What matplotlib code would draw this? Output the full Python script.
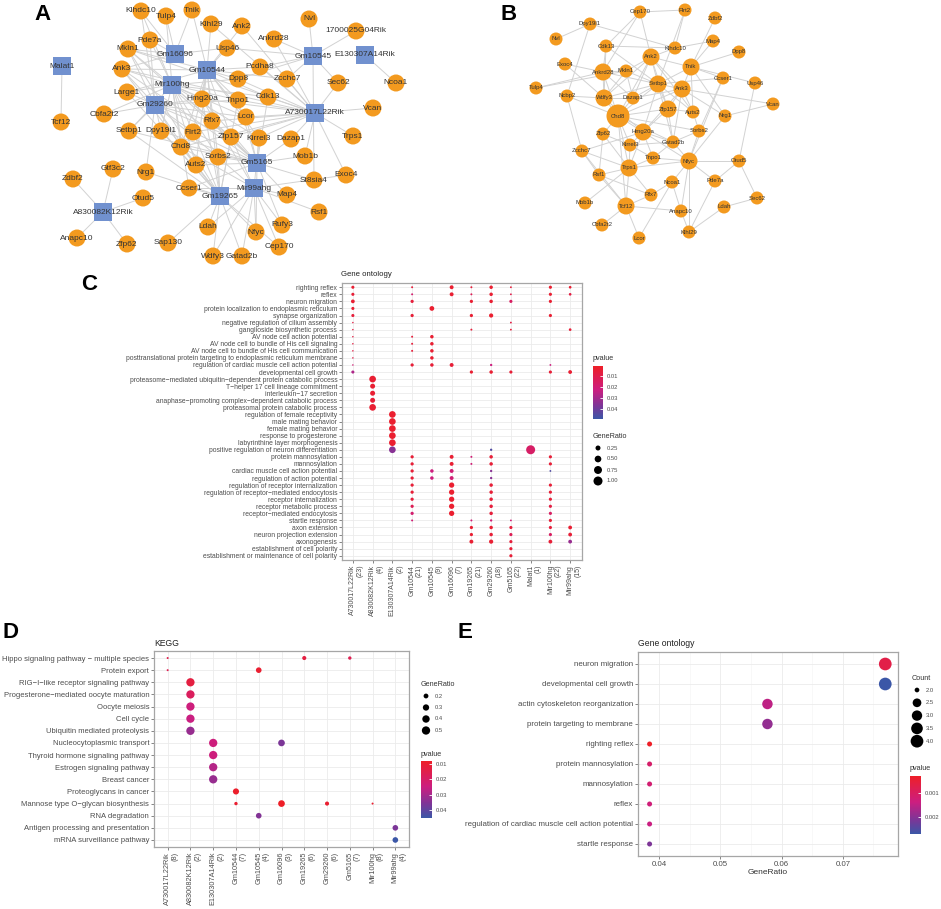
import numpy as np
import matplotlib
matplotlib.use("Agg")
import matplotlib.pyplot as plt
from matplotlib.colors import LinearSegmentedColormap, Normalize
from matplotlib.cm import ScalarMappable
from matplotlib.collections import LineCollection
from matplotlib.transforms import ScaledTranslation

plt.rcParams['font.family'] = ['Liberation Sans', 'DejaVu Sans']

# ---------------- data: panel A (lncRNA - mRNA network, layout from picture) ----------------
a_lnc = ['Malat1', 'Gm16096', 'Gm10544', 'Mir100hg', 'Gm29260', 'Gm10545', 'E130307A14Rik',
         'A730017L22Rik', 'Gm5165', 'Mir99ahg', 'Gm19265', 'A830082K12Rik']
a_lnc_x = [62, 175, 207, 172, 155, 313, 365, 315, 257, 254, 220, 103]
a_lnc_y = [66, 54, 70, 85, 105, 56, 55, 113, 163, 188, 196, 212]

a_gene = ['Klhdc10', 'Tulp4', 'Tnik', 'Klhl29', 'Ank2', 'Nvl', '1700025G04Rik', 'Ankrd28', 'Pde7a',
          'Mkln1', 'Usp46', 'Ank3', 'Pcdha8', 'Dpp8', 'Zcchc7', 'Sec62', 'Ncoa1', 'Large1', 'Hmg20a',
          'Tnpo1', 'Cdk13', 'Vcan', 'Cbfa2t2', 'Tcf12', 'Lcor', 'Rfx7', 'Setbp1', 'Dpy19l1', 'Flrt2',
          'Zfp157', 'Kirrel3', 'Dazap1', 'Trps1', 'Chd8', 'Sorbs2', 'Mob1b', 'Auts2', 'Gtf3c2', 'Nrg1',
          'Zdbf2', 'Exoc4', 'St8sia4', 'Ccser1', 'Map4', 'Otud5', 'Rsf1', 'Ldah', 'Rufy3', 'Nfyc',
          'Anapc10', 'Zfp62', 'Sap130', 'Cep170', 'Wdfy3', 'Gatad2b']
a_gene_x = [141, 166, 192, 211, 242, 309, 356, 274, 150, 128, 227, 122, 260, 238, 287, 338, 396, 127,
            202, 238, 268, 373, 104, 61, 246, 212, 129, 161, 193, 231, 259, 291, 353, 181, 218, 305,
            196, 113, 146, 73, 346, 314, 189, 287, 143, 319, 208, 282, 256, 77, 127, 168, 279, 213, 242]
a_gene_y = [11, 16, 10, 24, 26, 19, 31, 39, 40, 49, 48, 69, 67, 79, 79, 83, 83, 92, 99, 100, 97, 108,
            114, 122, 117, 121, 131, 131, 132, 137, 138, 139, 136, 147, 157, 156, 165, 169, 172, 179,
            175, 180, 188, 195, 198, 212, 227, 225, 232, 238, 244, 243, 247, 256, 256]

a_targets = {
    'Malat1': ['Tcf12'],
    'E130307A14Rik': ['Ncoa1'],
    'A830082K12Rik': ['Zdbf2', 'Gtf3c2', 'Otud5', 'Anapc10', 'Zfp62'],
    'Gm16096': ['Klhdc10', 'Tulp4', 'Tnik', 'Pde7a', 'Mkln1', 'Ank3', 'Usp46'],
    'Gm10545': ['Nvl', '1700025G04Rik', 'Sec62', 'Ankrd28', 'Zcchc7', 'Pcdha8', 'Usp46', 'Dpp8',
                'St8sia4'],
    'A730017L22Rik': ['Vcan', 'Trps1', 'Sec62', 'Zcchc7', 'Cdk13', 'Lcor', 'Tnpo1', 'Hmg20a', 'Dpp8',
                      'Pcdha8', 'Ankrd28', 'Ank2', 'Klhl29', 'Kirrel3', 'Dazap1', 'Mob1b', 'Exoc4',
                      'Zfp157', 'Rfx7', 'Flrt2', 'Chd8', 'Mkln1', 'Ank3'],
    'Gm5165': ['Kirrel3', 'Dazap1', 'Mob1b', 'Zfp157', 'Sorbs2', 'Auts2', 'Lcor', 'Rfx7', 'Chd8',
               'Flrt2', 'Dpy19l1', 'Setbp1', 'Ccser1', 'Nfyc', 'Rufy3', 'Map4', 'St8sia4', 'Hmg20a',
               'Tnpo1', 'Cdk13', 'Ank3', 'Mkln1'],
    'Mir99ahg': ['Map4', 'Rsf1', 'Rufy3', 'Nfyc', 'Cep170', 'Gatad2b', 'Wdfy3', 'Ldah', 'Sorbs2',
                 'Kirrel3', 'Zfp157', 'Exoc4', 'Ccser1', 'Chd8', 'Hmg20a'],
    'Gm19265': ['Ccser1', 'Nrg1', 'Ldah', 'Sap130', 'Wdfy3', 'Gatad2b', 'Nfyc', 'Cep170', 'Auts2',
                'Sorbs2', 'Chd8', 'Flrt2', 'Rfx7', 'Dpy19l1', 'Setbp1', 'Hmg20a', 'Zfp157', 'Ank3',
                'Mkln1', 'Large1', 'Tnpo1'],
    'Gm29260': ['Cbfa2t2', 'Setbp1', 'Dpy19l1', 'Large1', 'Ank3', 'Mkln1', 'Pde7a', 'Hmg20a', 'Chd8',
                'Flrt2', 'Rfx7', 'Auts2', 'Sorbs2', 'Nrg1', 'Lcor', 'Zfp157', 'Tnpo1', 'Klhdc10'],
    'Mir100hg': ['Ank3', 'Mkln1', 'Large1', 'Pde7a', 'Tulp4', 'Klhdc10', 'Hmg20a', 'Rfx7', 'Chd8',
                 'Flrt2', 'Dpy19l1', 'Setbp1', 'Sorbs2', 'Auts2', 'Zfp157', 'Lcor', 'Tnpo1', 'Cdk13',
                 'Dpp8', 'Ccser1', 'Kirrel3', 'Cbfa2t2'],
    'Gm10544': ['Tnik', 'Klhl29', 'Ank2', 'Usp46', 'Pcdha8', 'Dpp8', 'Hmg20a', 'Tnpo1', 'Cdk13',
                'Lcor', 'Rfx7', 'Zfp157', 'Kirrel3', 'Chd8', 'Flrt2', 'Sorbs2', 'Auts2', 'Mkln1',
                'Ank3', 'Large1', 'Zcchc7'],
}

# ---------------- data: panel B (PPI network) ----------------
b_gene = ['Cep170', 'Flrt2', 'Zdbf2', 'Dpy19l1', 'Nvl', 'Cdk13', 'Klhdc10', 'Map4', 'Dpp8', 'Ank2',
          'Exoc4', 'Tnik', 'Ankrd28', 'Mkln1', 'Ccser1', 'Usp46', 'Tulp4', 'Setbp1', 'Ank3', 'Ncbp2',
          'Wdfy3', 'Dazap1', 'Vcan', 'Zfp157', 'Auts2', 'Nrg1', 'Chd8', 'Hmg20a', 'Sorbs2', 'Zfp62',
          'Gatad2b', 'Kirrel3', 'Zcchc7', 'Tnpo1', 'Nfyc', 'Otud5', 'Trps1', 'Rsf1', 'Ncoa1', 'Pde7a',
          'Rfx7', 'Mob1b', 'Sec62', 'Tcf12', 'Ldah', 'Anapc10', 'Cbfa2t2', 'Klhl29', 'Lcor']
b_x = [640, 685, 715, 590, 556, 606, 675, 713, 739, 651, 565, 691, 603, 626, 723, 755, 536, 658, 682,
       567, 604, 633, 773, 668, 693, 725, 618, 643, 699, 603, 673, 630, 582, 653, 689, 739, 629, 599,
       672, 715, 651, 585, 757, 626, 724, 681, 602, 689, 639]
b_y = [12, 10, 18, 24, 39, 46, 48, 41, 52, 57, 64, 67, 72, 71, 78, 83, 88, 84, 89, 96, 98, 98, 104,
       109, 112, 116, 116, 132, 131, 134, 142, 145, 151, 158, 161, 161, 168, 175, 182, 181, 195, 203,
       198, 206, 207, 211, 225, 232, 238]
b_hub = {'Ank2': 1, 'Tnik': 1, 'Ankrd28': 1, 'Setbp1': 1, 'Ank3': 1, 'Wdfy3': 1, 'Zfp157': 1,
         'Hmg20a': 1, 'Nfyc': 1, 'Trps1': 1, 'Tcf12': 1, 'Chd8': 2}
b_edges = [
    ('Dpy19l1', 'Nvl'), ('Dpy19l1', 'Ncbp2'), ('Dpy19l1', 'Klhdc10'), ('Cep170', 'Flrt2'),
    ('Cep170', 'Cdk13'), ('Cep170', 'Ankrd28'), ('Cep170', 'Ank2'), ('Flrt2', 'Klhdc10'),
    ('Flrt2', 'Setbp1'), ('Zdbf2', 'Tnik'), ('Map4', 'Tnik'), ('Map4', 'Klhdc10'), ('Dpp8', 'Tnik'),
    ('Cdk13', 'Klhdc10'), ('Cdk13', 'Setbp1'), ('Cdk13', 'Wdfy3'), ('Exoc4', 'Ankrd28'),
    ('Exoc4', 'Wdfy3'), ('Tulp4', 'Mkln1'), ('Ank2', 'Tnik'), ('Ank2', 'Klhdc10'), ('Ank2', 'Setbp1'),
    ('Ank2', 'Ank3'), ('Ank2', 'Chd8'), ('Ank2', 'Wdfy3'), ('Ank2', 'Dazap1'), ('Ank2', 'Mkln1'),
    ('Ank2', 'Zfp157'), ('Ank2', 'Auts2'), ('Tnik', 'Ank3'), ('Tnik', 'Setbp1'), ('Tnik', 'Nrg1'),
    ('Tnik', 'Auts2'), ('Tnik', 'Ccser1'), ('Ccser1', 'Setbp1'), ('Ccser1', 'Sorbs2'),
    ('Ccser1', 'Nfyc'), ('Usp46', 'Otud5'), ('Usp46', 'Tnik'), ('Vcan', 'Nrg1'), ('Vcan', 'Ank3'),
    ('Nrg1', 'Ank3'), ('Nrg1', 'Nfyc'), ('Ncbp2', 'Wdfy3'), ('Ncbp2', 'Zcchc7'), ('Ncbp2', 'Chd8'),
    ('Wdfy3', 'Setbp1'), ('Wdfy3', 'Chd8'), ('Wdfy3', 'Dazap1'), ('Wdfy3', 'Hmg20a'),
    ('Chd8', 'Hmg20a'), ('Chd8', 'Zfp157'), ('Chd8', 'Setbp1'), ('Chd8', 'Kirrel3'), ('Chd8', 'Trps1'),
    ('Chd8', 'Zfp62'), ('Chd8', 'Gatad2b'), ('Chd8', 'Tcf12'), ('Chd8', 'Sorbs2'), ('Chd8', 'Dazap1'),
    ('Chd8', 'Ank3'), ('Hmg20a', 'Zfp157'), ('Hmg20a', 'Gatad2b'), ('Hmg20a', 'Trps1'),
    ('Hmg20a', 'Tnpo1'), ('Hmg20a', 'Kirrel3'), ('Hmg20a', 'Setbp1'), ('Hmg20a', 'Ank3'),
    ('Hmg20a', 'Nfyc'), ('Zfp157', 'Auts2'), ('Zfp157', 'Setbp1'), ('Zfp157', 'Ank3'),
    ('Zfp157', 'Gatad2b'), ('Auts2', 'Ank3'), ('Auts2', 'Sorbs2'), ('Auts2', 'Setbp1'),
    ('Sorbs2', 'Nfyc'), ('Sorbs2', 'Gatad2b'), ('Zcchc7', 'Rsf1'), ('Zcchc7', 'Trps1'),
    ('Zcchc7', 'Tcf12'), ('Zcchc7', 'Hmg20a'), ('Rsf1', 'Tcf12'), ('Rsf1', 'Trps1'), ('Rsf1', 'Zfp62'),
    ('Rsf1', 'Rfx7'), ('Trps1', 'Tcf12'), ('Trps1', 'Tnpo1'), ('Trps1', 'Nfyc'), ('Trps1', 'Rfx7'),
    ('Trps1', 'Kirrel3'), ('Tnpo1', 'Nfyc'), ('Nfyc', 'Otud5'), ('Nfyc', 'Ncoa1'), ('Nfyc', 'Anapc10'),
    ('Nfyc', 'Pde7a'), ('Nfyc', 'Klhl29'), ('Otud5', 'Pde7a'), ('Otud5', 'Sec62'), ('Ldah', 'Sec62'),
    ('Ldah', 'Klhl29'), ('Klhl29', 'Pde7a'), ('Klhl29', 'Anapc10'), ('Ncoa1', 'Anapc10'),
    ('Ncoa1', 'Rfx7'), ('Rfx7', 'Tcf12'), ('Tcf12', 'Anapc10'), ('Mob1b', 'Trps1'),
    ('Cbfa2t2', 'Tcf12'), ('Lcor', 'Tcf12'), ('Lcor', 'Ncoa1'), ('Mkln1', 'Setbp1'),
    ('Mkln1', 'Dazap1'), ('Mkln1', 'Wdfy3'), ('Dazap1', 'Setbp1'), ('Dazap1', 'Ank3'),
    ('Kirrel3', 'Tnpo1'), ('Kirrel3', 'Zfp62'), ('Kirrel3', 'Gatad2b'), ('Zfp62', 'Trps1'),
    ('Gatad2b', 'Nfyc'), ('Gatad2b', 'Tnpo1'), ('Gatad2b', 'Ank3'), ('Ankrd28', 'Setbp1'),
    ('Ankrd28', 'Mkln1'), ('Ankrd28', 'Chd8'), ('Ankrd28', 'Dazap1'), ('Ankrd28', 'Wdfy3'),
    ('Ankrd28', 'Cdk13'), ('Setbp1', 'Ank3'), ('Setbp1', 'Gatad2b'), ('Tulp4', 'Ankrd28'),
]

# ---------------- data: panel C (GO enrichment per lncRNA) ----------------
go_lnc = ['A730017L22Rik', 'A830082K12Rik', 'E130307A14Rik', 'Gm10544', 'Gm10545', 'Gm16096',
          'Gm19265', 'Gm29260', 'Gm5165', 'Malat1', 'Mir100hg', 'Mir99ahg']
go_lnc_n = [23, 4, 2, 21, 9, 7, 21, 18, 22, 1, 22, 15]
go_terms = [
    'righting reflex', 'reflex', 'neuron migration', 'protein localization to endoplasmic reticulum',
    'synapse organization', 'negative regulation of cilium assembly', 'ganglioside biosynthetic process',
    'AV node cell action potential', 'AV node cell to bundle of His cell signaling',
    'AV node cell to bundle of His cell communication',
    'posttranslational protein targeting to endoplasmic reticulum membrane',
    'regulation of cardiac muscle cell action potential', 'developmental cell growth',
    'proteasome\u2212mediated ubiquitin\u2212dependent protein catabolic process',
    'T\u2212helper 17 cell lineage commitment', 'interleukin\u221217 secretion',
    'anaphase\u2212promoting complex\u2212dependent catabolic process',
    'proteasomal protein catabolic process', 'regulation of female receptivity', 'male mating behavior',
    'female mating behavior', 'response to progesterone', 'labyrinthine layer morphogenesis',
    'positive regulation of neuron differentiation', 'protein mannosylation', 'mannosylation',
    'cardiac muscle cell action potential', 'regulation of action potential',
    'regulation of receptor internalization', 'regulation of receptor\u2212mediated endocytosis',
    'receptor internalization', 'receptor metabolic process', 'receptor\u2212mediated endocytosis',
    'startle response', 'axon extension', 'neuron projection extension', 'axonogenesis',
    'establishment of cell polarity', 'establishment or maintenance of cell polarity']
# (term index, lncRNA index, gene count, p value)
go_dots = [
    (0, 0, 2, .004), (0, 3, 1, .006), (0, 5, 1, .003), (0, 6, 1, .006), (0, 7, 2, .003), (0, 8, 1, .006),
    (0, 10, 2, .003), (0, 11, 1, .004),
    (1, 0, 2, .005), (1, 3, 1, .018), (1, 5, 1, .004), (1, 6, 1, .012), (1, 7, 2, .004), (1, 8, 1, .01),
    (1, 10, 2, .004), (1, 11, 1, .008),
    (2, 0, 3, .004), (2, 3, 2, .006), (2, 6, 2, .004), (2, 7, 2, .004), (2, 8, 2, .015), (2, 10, 2, .004),
    (3, 0, 2, .004), (3, 4, 2, .003),
    (4, 0, 2, .006), (4, 3, 2, .005), (4, 6, 2, .004), (4, 7, 3, .003), (4, 10, 2, .004),
    (5, 0, 1, .008), (5, 8, 1, .008),
    (6, 0, 1, .008), (6, 6, 1, .006), (6, 8, 1, .006), (6, 11, 1, .005),
    (7, 0, 1, .008), (7, 3, 1, .006), (7, 4, 1, .004),
    (8, 0, 1, .008), (8, 3, 1, .006), (8, 4, 1, .004),
    (9, 0, 1, .008), (9, 3, 1, .006), (9, 4, 1, .004),
    (10, 0, 1, .01), (10, 4, 1, .004),
    (11, 0, 1, .02), (11, 3, 2, .005), (11, 4, 1, .005), (11, 5, 1, .005), (11, 7, 1, .022),
    (11, 10, 1, .022),
    (12, 0, 2, .028), (12, 6, 2, .004), (12, 7, 2, .004), (12, 8, 2, .005), (12, 10, 2, .005),
    (12, 11, 2, .004),
    (13, 1, 2, .004), (14, 1, 1, .004), (15, 1, 1, .004), (16, 1, 1, .005), (17, 1, 2, .004),
    (18, 2, 1, .003), (19, 2, 1, .003), (20, 2, 1, .003), (21, 2, 1, .003), (22, 2, 1, .003),
    (23, 2, 1, .035), (23, 7, 1, .045), (23, 9, 1, .016),
    (24, 3, 2, .005), (24, 5, 1, .004), (24, 6, 1, .02), (24, 7, 2, .005), (24, 10, 2, .005),
    (25, 3, 2, .005), (25, 5, 1, .004), (25, 6, 1, .02), (25, 7, 2, .005), (25, 10, 2, .005),
    (26, 3, 2, .005), (26, 4, 1, .022), (26, 5, 1, .02), (26, 7, 1, .035), (26, 10, 1, .045),
    (27, 3, 2, .005), (27, 4, 1, .022), (27, 5, 1, .02), (27, 7, 1, .035),
    (28, 3, 2, .005), (28, 5, 2, .003), (28, 7, 2, .005), (28, 10, 2, .005),
    (29, 3, 2, .005), (29, 5, 2, .003), (29, 7, 2, .005), (29, 10, 2, .005),
    (30, 3, 2, .006), (30, 5, 2, .003), (30, 7, 2, .005), (30, 10, 2, .005),
    (31, 3, 2, .012), (31, 5, 2, .003), (31, 7, 2, .006), (31, 10, 2, .008),
    (32, 3, 2, .018), (32, 5, 2, .003), (32, 7, 2, .006), (32, 10, 2, .015),
    (33, 3, 1, .02), (33, 6, 1, .02), (33, 7, 1, .02), (33, 8, 1, .02), (33, 10, 2, .005),
    (34, 6, 2, .004), (34, 7, 2, .004), (34, 8, 2, .006), (34, 10, 2, .006), (34, 11, 2, .004),
    (35, 6, 2, .004), (35, 7, 2, .005), (35, 8, 2, .012), (35, 10, 2, .015), (35, 11, 2, .005),
    (36, 6, 3, .004), (36, 7, 3, .004), (36, 8, 2, .006), (36, 10, 3, .005), (36, 11, 2, .032),
    (37, 8, 2, .005), (38, 8, 2, .005),
]

# ---------------- data: panel D (KEGG per lncRNA) ----------------
kegg_lnc = ['A730017L22Rik', 'A830082K12Rik', 'E130307A14Rik', 'Gm10544', 'Gm10545', 'Gm16096',
            'Gm19265', 'Gm29260', 'Gm5165', 'Mir100hg', 'Mir99ahg']
kegg_lnc_n = [8, 2, 2, 7, 4, 3, 6, 6, 7, 8, 4]
kegg_terms = ['Hippo signaling pathway \u2212 multiple species', 'Protein export',
              'RIG\u2212I\u2212like receptor signaling pathway', 'Progesterone\u2212mediated oocyte maturation',
              'Oocyte meiosis', 'Cell cycle', 'Ubiquitin mediated proteolysis', 'Nucleocytoplasmic transport',
              'Thyroid hormone signaling pathway', 'Estrogen signaling pathway', 'Breast cancer',
              'Proteoglycans in cancer', 'Mannose type O\u2212glycan biosynthesis', 'RNA degradation',
              'Antigen processing and presentation', 'mRNA surveillance pathway']
kegg_dots = [
    (0, 0, 1, .015), (0, 6, 1, .013), (0, 8, 1, .016),
    (1, 0, 1, .016), (1, 4, 1, .010),
    (2, 1, 1, .013), (3, 1, 1, .018), (4, 1, 1, .024), (5, 1, 1, .025), (6, 1, 1, .032),
    (7, 2, 1, .024), (7, 5, 1, .036), (8, 2, 1, .024), (9, 2, 1, .028), (10, 2, 1, .032),
    (11, 3, 2, .009),
    (12, 3, 1, .010), (12, 5, 1, .008), (12, 7, 1, .010), (12, 9, 1, .010),
    (13, 4, 1, .035), (14, 10, 1, .036), (15, 10, 1, .045),
]

# ---------------- data: panel E (GO of the whole set) ----------------
e_terms = ['neuron migration', 'developmental cell growth', 'actin cytoskeleton reorganization',
           'protein targeting to membrane', 'righting reflex', 'protein mannosylation', 'mannosylation',
           'reflex', 'regulation of cardiac muscle cell action potential', 'startle response']
e_count = [4, 4, 3, 3, 2, 2, 2, 2, 2, 2]
e_total = 52
e_p = [0.0007, 0.0027, 0.0015, 0.0019, 0.0003, 0.0011, 0.0012, 0.0013, 0.0014, 0.0021]

# ---------------- style ----------------
W, H = 941, 909
ORANGE = '#F39A1F'
SQBLUE = '#7191CF'
EDGE = '#D2D2D2'
TXT = '#4D4D4D'
cmap = LinearSegmentedColormap.from_list('pv', [(0, '#EE1F27'), (0.45, '#CC1E80'),
                                                (0.75, '#7D3597'), (1, '#3B57A7')])

fig = plt.figure(figsize=(W / 100, H / 100), dpi=100)


def rect(x0, y0, x1, y1):
    return [x0 / W, 1 - y1 / H, (x1 - x0) / W, (y1 - y0) / H]


def pt(d):
    # pixel diameter -> scatter area
    return (np.asarray(d) * 0.72) ** 2


def diam(v, vmin, vmax, dmin, dmax):
    v = np.asarray(v, dtype=float)
    return dmin + (dmax - dmin) * np.sqrt(np.clip((v - vmin) / (vmax - vmin), 0, 1))


def style_ax(ax, fs):
    ax.set_facecolor('white')
    ax.grid(True, color='#EBEBEB', lw=0.6)
    ax.set_axisbelow(True)
    for s in ax.spines.values():
        s.set_color('#A6A6A6')
        s.set_linewidth(0.9)
    ax.tick_params(labelsize=fs, labelcolor=TXT, length=2, width=0.5, color='#555555', pad=1.5)


# overlay axis in pixel units: networks, labels, legends
ov = fig.add_axes([0, 0, 1, 1], zorder=5)
ov.set_xlim(0, W)
ov.set_ylim(H, 0)
ov.axis('off')

# ---- Panel A ----
pos = {n: (x, y) for n, x, y in zip(a_lnc + a_gene, a_lnc_x + a_gene_x, a_lnc_y + a_gene_y)}
segs = [[pos[l], pos[g]] for l, gl in a_targets.items() for g in gl]
ov.add_collection(LineCollection(segs, colors=EDGE, linewidths=0.7, zorder=1))
ov.scatter(a_gene_x, a_gene_y, s=pt(17), c=ORANGE, edgecolors='none', zorder=2)
ov.scatter(a_lnc_x, a_lnc_y, s=pt(18), c=SQBLUE, marker='s', edgecolors='none', zorder=2)
for n in a_lnc + a_gene:
    ov.text(pos[n][0], pos[n][1], n, fontsize=6, color='#333333', ha='center', va='center', zorder=3)

# ---- Panel B ----
bpos = {n: (x, y) for n, x, y in zip(b_gene, b_x, b_y)}
segs = [[bpos[a], bpos[b]] for a, b in b_edges]
ov.add_collection(LineCollection(segs, colors=EDGE, linewidths=0.7, zorder=1))
bd = [[13, 17, 23][b_hub.get(n, 0)] for n in b_gene]
ov.scatter(b_x, b_y, s=pt(bd), c=ORANGE, edgecolors='none', zorder=2)
for n in b_gene:
    ov.text(bpos[n][0], bpos[n][1], n, fontsize=4.3, color='#333333', ha='center', va='center', zorder=3)

# panel letters
for lab, x, y in [('A', 34, 15), ('B', 501, 15), ('C', 81, 285), ('D', 2, 633), ('E', 458, 633)]:
    ov.text(x, y, lab, fontsize=16, fontweight='bold', ha='left', va='center', color='black')


def size_legend(x, y0, dy, title, vals, labels, ds):
    ov.text(x - 5, y0 - 12, title, fontsize=5.2, color='#333333', ha='left', va='center')
    for i, (v, d) in enumerate(zip(labels, ds)):
        yy = y0 + i * dy
        ov.scatter([x], [yy], s=pt(d), c='black', edgecolors='none')
        ov.text(x + 9, yy, v, fontsize=4.2, color=TXT, ha='left', va='center')


def color_legend(x0, y0, x1, y1, title, norm, ticks, labels):
    ov.text(x0, y0 - 7, title, fontsize=5.2, color='#333333', ha='left', va='center')
    cax = fig.add_axes(rect(x0, y0, x1, y1), zorder=6)
    cb = fig.colorbar(ScalarMappable(norm=norm, cmap=cmap), cax=cax, ticks=ticks)
    cb.outline.set_visible(False)
    cb.ax.set_yticklabels(labels)
    cb.ax.invert_yaxis()
    cb.ax.tick_params(labelsize=4.2, labelcolor=TXT, length=2.5, width=0.6, color='white',
                      direction='in', pad=3)


def two_line_labels(ax, names, counts, fs):
    ax.set_xticks(range(len(names)))
    ax.set_xticklabels(['%s\n(%d)' % (n, k) for n, k in zip(names, counts)], rotation=90,
                       ha='left', va='top', multialignment='right', fontsize=fs, linespacing=1.1)
    off = ScaledTranslation(-0.035, 0, fig.dpi_scale_trans)
    for t in ax.get_xticklabels():
        t.set_transform(t.get_transform() + off)


# ---- Panel C ----
axc = fig.add_axes(rect(342, 283, 582, 560))
style_ax(axc, 4.9)
rows = np.array([d[0] for d in go_dots])
cols = np.array([d[1] for d in go_dots])
ratio = np.array([d[2] / go_lnc_n[d[1]] for d in go_dots])
pv = np.array([d[3] for d in go_dots])
normc = Normalize(0.0008, 0.049)
axc.scatter(cols, rows, s=pt(diam(ratio, 1 / 23, 1.0, 1.5, 9.0)), c=pv, cmap=cmap, norm=normc,
            edgecolors='none', zorder=3)
axc.set_xlim(-0.55, 11.6)
axc.set_ylim(len(go_terms) - 0.4, -0.6)
axc.set_yticks(range(len(go_terms)))
axc.set_yticklabels(go_terms)
two_line_labels(axc, go_lnc, go_lnc_n, 5.0)
ov.text(341, 275, 'Gene ontology', fontsize=5.6, color='#222222', ha='left', va='center')
color_legend(593, 366, 603, 419, 'pvalue', normc, [0.01, 0.02, 0.03, 0.04],
             ['0.01', '0.02', '0.03', '0.04'])
gl = [0.25, 0.5, 0.75, 1.0]
size_legend(598, 448, 11, 'GeneRatio', gl, ['0.25', '0.50', '0.75', '1.00'],
            diam(gl, 1 / 23, 1.0, 1.5, 9.0))

# ---- Panel D ----
axd = fig.add_axes(rect(154, 651, 409, 847))
style_ax(axd, 5.5)
rows = np.array([d[0] for d in kegg_dots])
cols = np.array([d[1] for d in kegg_dots])
ratio = np.array([d[2] / kegg_lnc_n[d[1]] for d in kegg_dots])
pv = np.array([d[3] for d in kegg_dots])
normd = Normalize(0.008, 0.045)
axd.scatter(cols, rows, s=pt(diam(ratio, 0.125, 0.5, 2.0, 8.3)), c=pv, cmap=cmap, norm=normd,
            edgecolors='none', zorder=3)
axd.set_xlim(-0.6, 10.6)
axd.set_ylim(len(kegg_terms) - 0.42, -0.58)
axd.set_yticks(range(len(kegg_terms)))
axd.set_yticklabels(kegg_terms)
two_line_labels(axd, kegg_lnc, kegg_lnc_n, 5.3)
ov.text(154, 643, 'KEGG', fontsize=6.2, color='#222222', ha='left', va='center')
gl = [0.2, 0.3, 0.4, 0.5]
size_legend(426, 696, 11.5, 'GeneRatio', gl, ['0.2', '0.3', '0.4', '0.5'],
            diam(gl, 0.125, 0.5, 2.0, 8.3))
color_legend(421, 761, 432, 818, 'pvalue', normd, [0.01, 0.02, 0.03, 0.04],
             ['0.01', '0.02', '0.03', '0.04'])

# ---- Panel E ----
axe = fig.add_axes(rect(638, 652, 898, 856))
style_ax(axe, 5.7)
er = np.array(e_count) / e_total
norme = Normalize(0.0003, 0.0027)
axe.scatter(er, range(len(e_terms)), s=pt(diam(e_count, 2, 4, 5.0, 12.7)), c=e_p, cmap=cmap,
            norm=norme, edgecolors='none', zorder=3)
axe.set_xlim(0.03657, 0.0790)
axe.set_ylim(len(e_terms) - 0.4, -0.6)
axe.set_yticks(range(len(e_terms)))
axe.set_yticklabels(e_terms)
axe.set_xticks([0.04, 0.05, 0.06, 0.07])
axe.set_xticklabels(['0.04', '0.05', '0.06', '0.07'])
axe.set_xticks([0.045, 0.055, 0.065, 0.075], minor=True)
axe.grid(True, which='minor', axis='x', color='#F3F3F3', lw=0.4)
axe.tick_params(which='minor', length=0)
axe.set_xlabel('GeneRatio', fontsize=6, color='#333333', labelpad=1)
ov.text(638, 643, 'Gene ontology', fontsize=6.2, color='#222222', ha='left', va='center')
cl = [2.0, 2.5, 3.0, 3.5, 4.0]
size_legend(917, 690, 12.8, 'Count', cl, ['2.0', '2.5', '3.0', '3.5', '4.0'],
            diam(cl, 2, 4, 4.7, 12.7))
color_legend(910, 776, 921, 834, 'pvalue', norme, [0.001, 0.002], ['0.001', '0.002'])

fig.savefig('out.png', dpi=100, facecolor='white')
